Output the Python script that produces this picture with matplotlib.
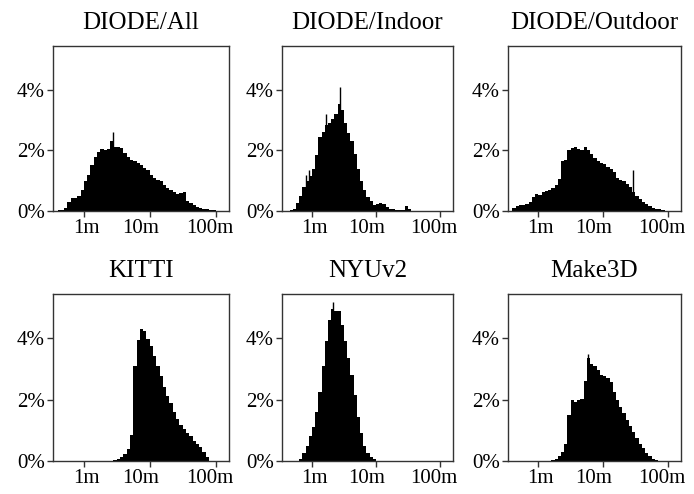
import numpy as np
import matplotlib
matplotlib.use("Agg")
import matplotlib.pyplot as plt
from matplotlib.transforms import ScaledTranslation

# depth histograms, bins are 0.05 wide in log10(metres), heights in percent
BIN_STEP = 0.05

titles = ["DIODE/All", "DIODE/Indoor", "DIODE/Outdoor", "KITTI", "NYUv2", "Make3D"]

# log10 of the first bin edge for each dataset
starts = [-0.45, -0.45, -0.45, 0.45, -0.20, 0.20]

diode_all = [0, 0.02, 0.04, 0.10, 0.30, 0.42, 0.44, 0.50, 0.68, 1.00,
             1.18, 1.52, 1.78, 1.95, 2.05, 2.00, 2.05, 2.30, 2.12, 2.10,
             2.08, 1.92, 1.78, 1.67, 1.64, 1.60, 1.52, 1.42, 1.34, 1.20,
             1.08, 1.03, 0.98, 0.86, 0.76, 0.68, 0.62, 0.56, 0.58, 0.62,
             0.34, 0.25, 0.19, 0.14, 0.11, 0.08, 0.05, 0.03, 0.02, 0]
diode_indoor = [0, 0, 0.03, 0.08, 0.28, 0.50, 0.78, 0.98, 1.15, 1.40,
                1.85, 2.45, 2.60, 2.85, 2.92, 3.05, 3.20, 3.55, 3.35, 2.92,
                2.58, 2.30, 1.88, 1.38, 1.00, 0.68, 0.46, 0.32, 0.20, 0.22,
                0.26, 0.22, 0.14, 0.08, 0.05, 0.04, 0.04, 0.04, 0.18, 0.08,
                0.01, 0]
diode_outdoor = [0, 0.10, 0.18, 0.20, 0.21, 0.23, 0.30, 0.45, 0.56, 0.52,
                 0.62, 0.65, 0.70, 0.75, 0.86, 1.05, 1.65, 1.70, 2.00, 2.08,
                 2.10, 2.05, 2.00, 2.12, 2.00, 1.88, 1.75, 1.66, 1.60, 1.56,
                 1.46, 1.38, 1.30, 1.10, 1.04, 1.00, 0.88, 0.78, 0.62, 0.48,
                 0.38, 0.30, 0.22, 0.16, 0.11, 0.08, 0.05, 0.03, 0.01, 0]
kitti = [0.02, 0.06, 0.12, 0.22, 0.38, 0.85, 3.10, 3.95, 4.30, 4.25,
         3.98, 3.75, 3.42, 3.10, 2.76, 2.42, 2.13, 1.88, 1.60, 1.38,
         1.18, 1.05, 0.93, 0.80, 0.66, 0.55, 0.45, 0.30, 0.14, 0]
nyuv2 = [0.05, 0.25, 0.50, 0.80, 1.10, 1.60, 2.25, 3.10, 3.90, 4.60,
         4.95, 4.90, 4.88, 4.45, 3.90, 3.35, 2.80, 2.15, 1.45, 0.92,
         0.50, 0.27, 0.14, 0.08, 0]
make3d = [0.03, 0.08, 0.15, 0.30, 0.55, 1.50, 2.00, 1.93, 1.98, 2.03,
          2.60, 3.35, 3.18, 3.10, 2.98, 2.82, 2.77, 2.72, 2.58, 2.25,
          1.98, 1.77, 1.56, 1.35, 1.14, 0.95, 0.75, 0.57, 0.41, 0.27,
          0.16, 0.08, 0.02]

hists = [diode_all, diode_indoor, diode_outdoor, kitti, nyuv2, make3d]

# narrow single-bin peaks sticking out of the envelope: (depth in m, percent)
spikes = [
    [(2.73, 2.6)],
    [(0.81, 1.2), (0.89, 1.37), (1.67, 3.2), (2.75, 4.1)],
    [(28.8, 1.37)],
    [],
    [(2.11, 5.2)],
    [(5.8, 3.5)],
]

xtick_vals = [1, 10, 100]
xtick_labels = ["1m", "10m", "100m"]
ytick_vals = [0, 2, 4]
ytick_labels = ["0%", "2%", "4%"]

plt.rcParams["font.family"] = ["Liberation Serif", "DejaVu Serif"]
plt.rcParams["axes.edgecolor"] = "#333333"
plt.rcParams["xtick.color"] = "#333333"
plt.rcParams["ytick.color"] = "#333333"
plt.rcParams["xtick.labelcolor"] = "black"
plt.rcParams["ytick.labelcolor"] = "black"

fig = plt.figure(figsize=(6.94, 4.94), dpi=100)

W, H = 694, 494
lefts = [53, 282, 508]
widths = [176, 171, 173]
rows = [(46, 211), (294, 461)]
# the x labels in the original sit a little left of their ticks (points)
label_shift = [1.5, -6.5, -4.5]

for i, (title, vals) in enumerate(zip(titles, hists)):
    r, c = divmod(i, 3)
    top, bottom = rows[r]
    ax = fig.add_axes([lefts[c] / W, 1 - bottom / H,
                       widths[c] / W, (bottom - top) / H])
    edges = 10 ** (starts[i] + BIN_STEP * np.arange(len(vals) + 1))
    ax.stairs(vals, edges, fill=True, color="black", linewidth=0)
    for depth, pct in spikes[i]:
        ax.vlines(depth, 0, pct, color="black", linewidth=1.0)

    ax.set_xscale("log")
    ax.set_xlim(0.34, 160)
    ax.set_ylim(0, 5.45)
    ax.set_xticks(xtick_vals)
    ax.set_xticklabels(xtick_labels)
    ax.xaxis.set_minor_locator(matplotlib.ticker.NullLocator())
    ax.set_yticks(ytick_vals)
    ax.set_yticklabels(ytick_labels)
    ax.tick_params(labelsize=15, length=4, width=1, pad=2)
    for lab, dx in zip(ax.get_xticklabels(), label_shift):
        lab.set_transform(lab.get_transform()
                          + ScaledTranslation(dx / 72, 0, fig.dpi_scale_trans))
    for s in ax.spines.values():
        s.set_linewidth(1.0)
    ax.set_title(title, fontsize=18, pad=12)

fig.savefig("out.png", dpi=100)
